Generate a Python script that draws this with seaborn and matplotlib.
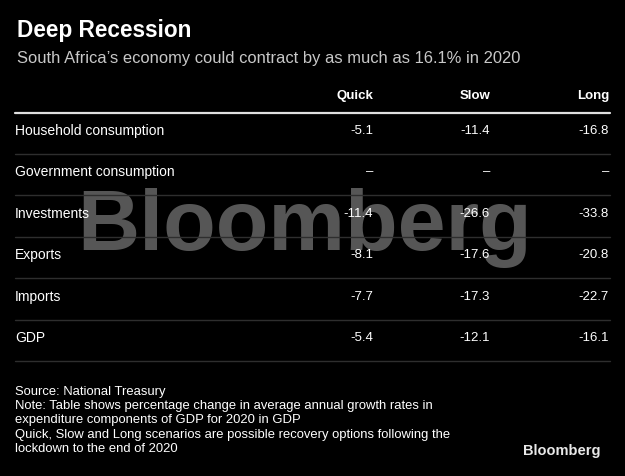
"""Deep Recession table - South Africa GDP scenarios."""

import matplotlib
matplotlib.use("Agg")
import numpy as np
import pandas as pd
import matplotlib.pyplot as plt
import seaborn as sns

components = ["Household consumption", "Government consumption", "Investments",
              "Exports", "Imports", "GDP"]
scenarios = ["Quick", "Slow", "Long"]
quick = [-5.1, np.nan, -11.4, -8.1, -7.7, -5.4]
slow = [-11.4, np.nan, -26.6, -17.6, -17.3, -12.1]
long_ = [-16.8, np.nan, -33.8, -20.8, -22.7, -16.1]

title = "Deep Recession"
subtitle = "South Africa\u2019s economy could contract by as much as 16.1% in 2020"
footer = ("Source: National Treasury\n"
          "Note: Table shows percentage change in average annual growth rates in\n"
          "expenditure components of GDP for 2020 in GDP\n"
          "Quick, Slow and Long scenarios are possible recovery options following the\n"
          "lockdown to the end of 2020")

table = pd.DataFrame({"Quick": quick, "Slow": slow, "Long": long_}, index=components)

sns.set_theme(style="dark", rc={"figure.facecolor": "black", "axes.facecolor": "black"})
plt.rcParams["font.family"] = ["Liberation Sans", "DejaVu Sans"]

fig = plt.figure(figsize=(6.25, 4.77), dpi=100)
ax = fig.add_axes([0, 0, 1, 1])
ax.set_xlim(0, 625)
ax.set_ylim(477, 0)
ax.axis("off")

fig.text(17 / 625, 1 - 30 / 477, title, color="white", fontsize=16.3,
         fontweight="bold", va="center", ha="left")
fig.text(17 / 625, 1 - 58 / 477, subtitle, color="#c8c8c8", fontsize=11.9,
         va="center", ha="left")

col_right = [373, 490, 609]
row_y0, row_step = 131, 41.4
header_y, top_line_y = 96, 114

for x, name in zip(col_right, table.columns):
    ax.text(x, header_y, name, color="white", fontsize=9.5, fontweight="bold",
            ha="right", va="center")
ax.plot([15, 610], [top_line_y, top_line_y], color="#e0e0e0", lw=1.6)

# watermark sits under the table text
ax.text(305, 228, "Bloomberg", color="white", alpha=0.34, fontsize=62,
        fontweight="bold", ha="center", va="center", zorder=0)

for i, (label, row) in enumerate(table.iterrows()):
    y = row_y0 + i * row_step
    ax.text(15, y, label, color="white", fontsize=10, ha="left", va="center", zorder=3)
    for x, v in zip(col_right, row.values):
        txt = "\u2013" if np.isnan(v) else f"{v:.1f}"
        ax.text(x, y, txt, color="white", fontsize=9.5, ha="right", va="center", zorder=3)
    ax.plot([15, 610], [y + 24, y + 24], color="#2e2e2e", lw=1)

fig.text(15 / 625, 1 - 386 / 477, footer, color="white", fontsize=9.4,
         va="top", ha="left", linespacing=1.25)
fig.text(601 / 625, 1 - 451 / 477, "Bloomberg", color="#e8e8e8", fontsize=10.5,
         fontweight="bold", va="center", ha="right")

fig.savefig("out.png", dpi=100, facecolor="black")
plt.close(fig)
